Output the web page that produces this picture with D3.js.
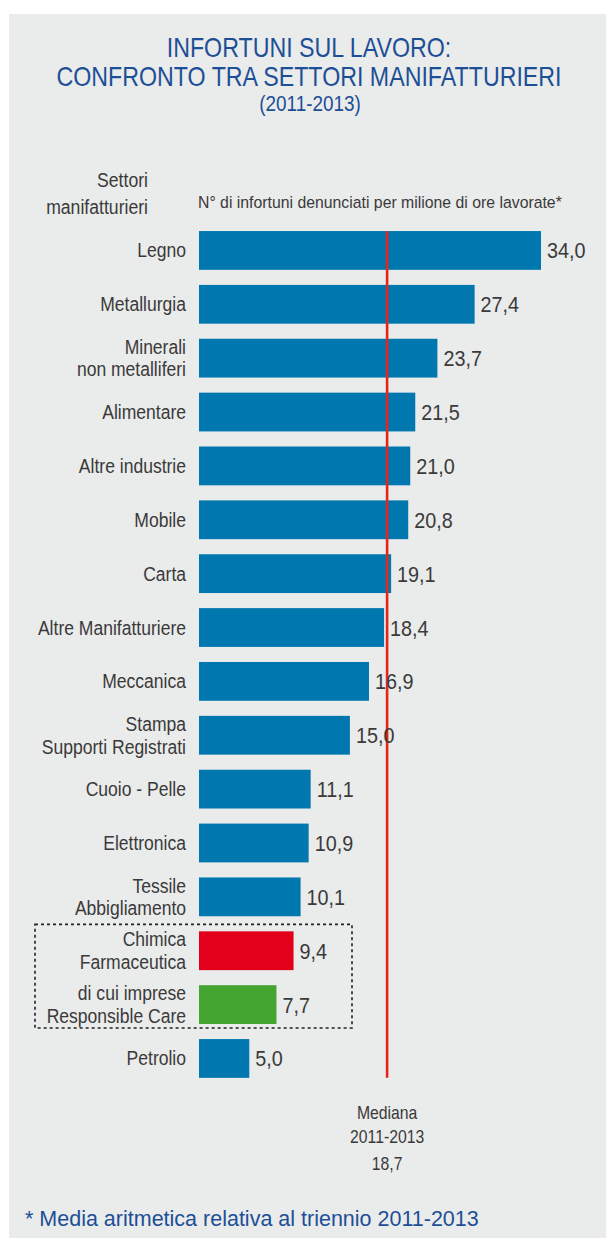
<!DOCTYPE html>
<html>
<head>
<meta charset="utf-8">
<script src="https://cdn.jsdelivr.net/npm/d3@7/dist/d3.min.js"></script>
<style>
  html, body { margin: 0; padding: 0; background: #ffffff; }
  svg { display: block; }
  text { font-family: "Liberation Sans", Arial, sans-serif; }
</style>
</head>
<body>
<svg id="chart" width="606" height="1238"></svg>
<script>
// Sectors (line breaks marked with \n) and injury rates per million hours worked
const categories = [
  "Legno",
  "Metallurgia",
  "Minerali\nnon metalliferi",
  "Alimentare",
  "Altre industrie",
  "Mobile",
  "Carta",
  "Altre Manifatturiere",
  "Meccanica",
  "Stampa\nSupporti Registrati",
  "Cuoio - Pelle",
  "Elettronica",
  "Tessile\nAbbigliamento",
  "Chimica\nFarmaceutica",
  "di cui imprese\nResponsible Care",
  "Petrolio"
];
const values = [34.0, 27.4, 23.7, 21.5, 21.0, 20.8, 19.1, 18.4, 16.9, 15.0, 11.1, 10.9, 10.1, 9.4, 7.7, 5.0];
const median = 18.7;
const medianLabel = ["Mediana", "2011-2013"];

const titleLines = ["INFORTUNI SUL LAVORO:", "CONFRONTO TRA SETTORI MANIFATTURIERI"];
const subtitle = "(2011-2013)";
const rowHeader = ["Settori", "manifatturieri"];
const valueHeader = "N° di infortuni denunciati per milione di ore lavorate*";
const footnote = "* Media aritmetica relativa al triennio 2011-2013";

// The chemical sector and its Responsible Care subset are highlighted
const highlighted = ["Chimica\nFarmaceutica", "di cui imprese\nResponsible Care"];

const BLUE = "#0077ae", RED = "#e2001a", GREEN = "#43a52f", LINE = "#e4261c";
const TEXT = "#3a3a3a", TITLE = "#1c4f96", PANEL = "#eaebeb";

const fmt = v => d3.format(".1f")(v).replace(".", ",");
const barColour = name => name === highlighted[0] ? RED : name === highlighted[1] ? GREEN : BLUE;

// condensed text: glyphs squeezed horizontally around the anchor point
function label(parent, px, py, str, size, squeeze, anchor) {
  return parent.append("text")
    .attr("transform", `translate(${px},${py}) scale(${squeeze},1)`)
    .attr("font-size", size)
    .attr("text-anchor", anchor || "start")
    .text(str);
}

const svg = d3.select("#chart");

// background panel
svg.append("rect").attr("x", 9).attr("y", 14).attr("width", 597).attr("height", 1224).attr("fill", PANEL);

// titles
const title = svg.append("g").attr("fill", TITLE);
titleLines.forEach((t, i) => label(title, 309, 57 + i * 29, t, 27, 0.86, "middle"));
label(title, 310, 111, subtitle, 22, 0.86, "middle");

// scales
const x = d3.scaleLinear().domain([0, 34]).range([199, 541]);
const y = d3.scaleBand().domain(categories).range([223.5, 1085.4]).paddingInner(0.28).paddingOuter(0.14);

// headers
const head = svg.append("g").attr("fill", TEXT);
rowHeader.forEach((t, i) => label(head, 148, 187 + i * 27, t, 21, 0.84, "end"));
label(head, 198, 208, valueHeader, 17, 0.93, "start");

// dashed frame around the chemical rows
const yTop = y(highlighted[0]) - 7;
const yBot = y(highlighted[1]) + y.bandwidth() + 4;
svg.append("rect")
  .attr("x", 35).attr("y", yTop).attr("width", 317).attr("height", yBot - yTop)
  .attr("fill", "none").attr("stroke", "#222").attr("stroke-width", 1.6).attr("stroke-dasharray", "3,3");

// bars
svg.append("g").selectAll("rect").data(categories).join("rect")
  .attr("x", x(0))
  .attr("y", d => y(d))
  .attr("width", (d, i) => x(values[i]) - x(0))
  .attr("height", y.bandwidth())
  .attr("fill", d => barColour(d));

// median line
const yLineTop = y(categories[0]);
const yLineBot = y(categories[categories.length - 1]) + y.bandwidth();
svg.append("line")
  .attr("x1", x(median)).attr("x2", x(median))
  .attr("y1", yLineTop).attr("y2", yLineBot)
  .attr("stroke", LINE).attr("stroke-width", 2.6);

// category labels
const labels = svg.append("g").attr("fill", TEXT);
categories.forEach(c => {
  const lines = c.split("\n");
  const cy = y(c) + y.bandwidth() / 2;
  lines.forEach((l, j) => {
    label(labels, 186, cy + 7 + (j - (lines.length - 1) / 2) * 22.6, l, 20, 0.877, "end");
  });
});

// value labels
const vals = svg.append("g").attr("fill", TEXT);
categories.forEach((c, i) => {
  label(vals, x(values[i]) + 6, y(c) + y.bandwidth() / 2 + 8, fmt(values[i]), 22, 0.9, "start");
});

// median annotation
const med = svg.append("g").attr("fill", TEXT);
medianLabel.forEach((t, i) => label(med, x(median), 1119 + i * 24, t, 19, 0.83, "middle"));
label(med, x(median), 1170, fmt(median), 19, 0.83, "middle");

// footnote
svg.append("text").attr("x", 25).attr("y", 1226)
  .attr("font-size", 21.5).attr("fill", TITLE).text(footnote);
</script>
</body>
</html>
